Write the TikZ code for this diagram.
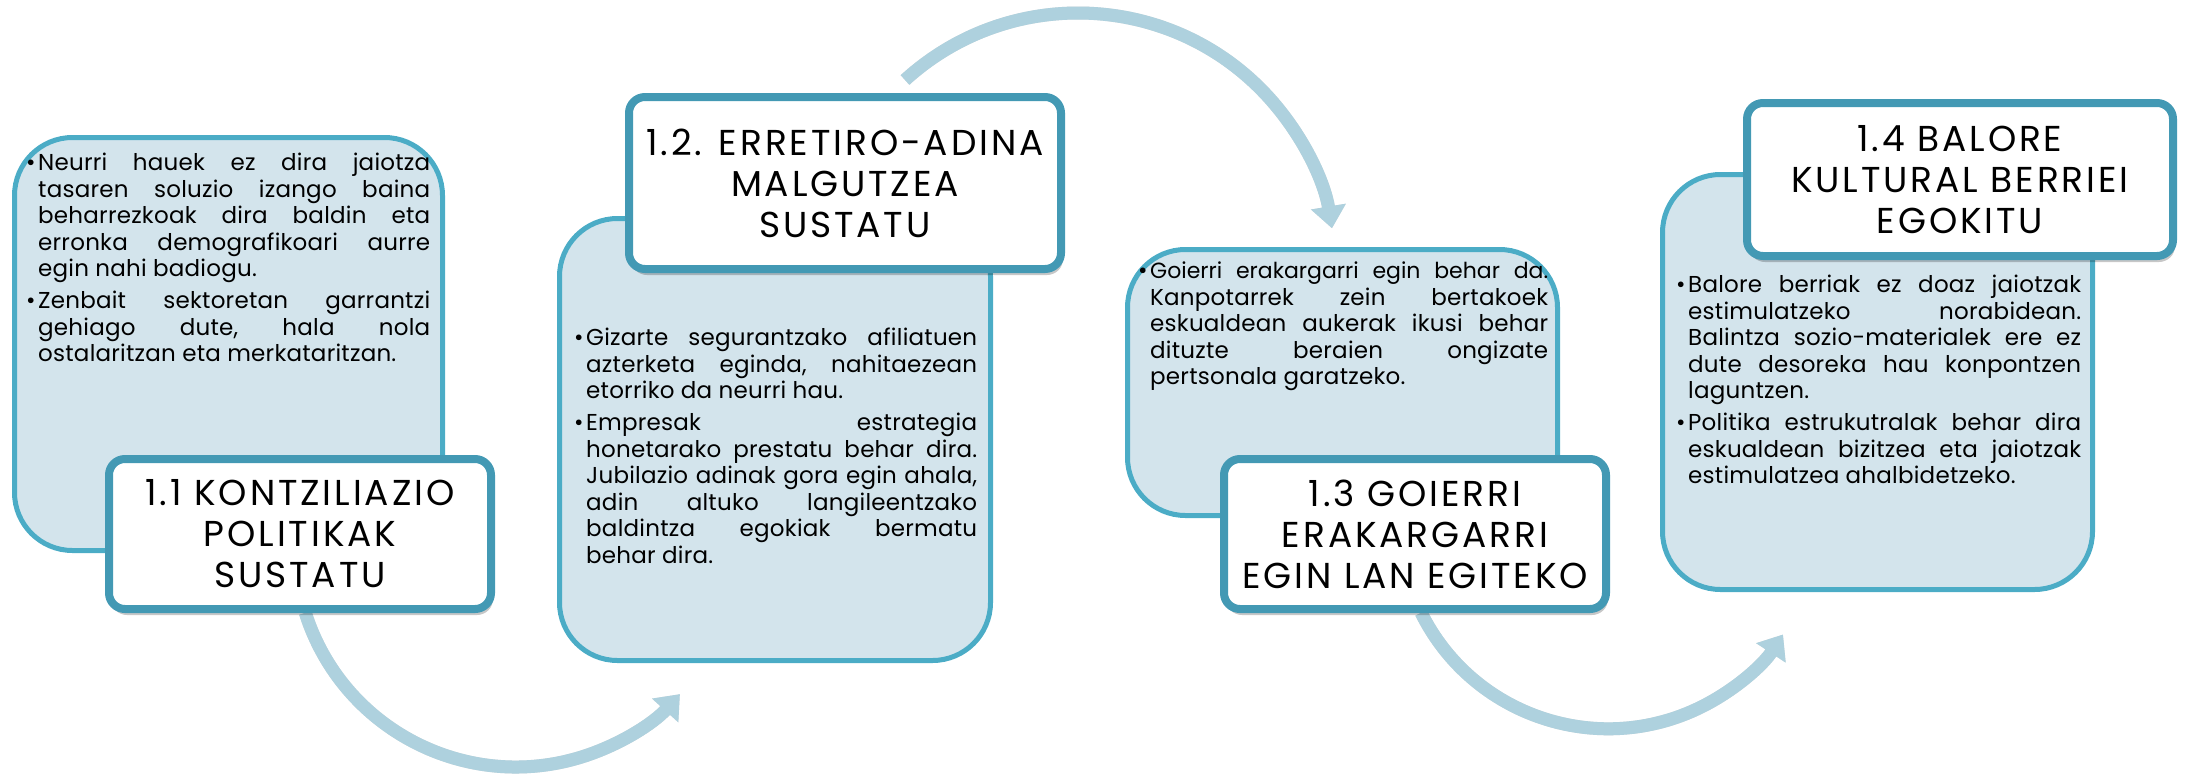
\documentclass[tikz,border=0pt]{standalone}
\usepackage{fontspec}
\setmainfont{Poppins}
\newfontfamily\bodyfam{Poppins}[LetterSpace=1.0]
\newfontfamily\tightfam{Poppins}[LetterSpace=0.0]
\newfontfamily\titlefam{Poppins}[LetterSpace=8.0]
\usetikzlibrary{arrows.meta,shadows}
\definecolor{lightfill}{RGB}{211,228,236}
\definecolor{lightborder}{RGB}{75,172,198}
\definecolor{titleborder}{RGB}{67,153,180}
\definecolor{arrowcol}{RGB}{174,209,222}
\newcommand\bodyfont{\bodyfam\fontsize{23}{26.5}\selectfont\setlength\parskip{5.5pt}\tolerance=10000\hbadness=10000\hyphenpenalty=10000\exhyphenpenalty=10000}
\newcommand\titlefont{\titlefam\fontsize{36}{41}\selectfont}
\newcommand\bitem[1]{\par\hangindent=12pt\hangafter=1\noindent\hbox to 12pt{\strut\textbullet\hfil}#1\par}
\begin{document}
\begin{tikzpicture}[x=1pt,y=1pt,
  lightbox/.style={draw=lightborder, line width=5pt, fill=lightfill, rounded corners=58pt, inner sep=0pt},
  titlebox/.style={draw=titleborder, line width=8pt, fill=white, rounded corners=16pt, inner sep=0pt, align=center, font=\titlefont,
     drop shadow={shadow xshift=2pt, shadow yshift=-6pt, fill=black, opacity=0.22}},
  bodytxt/.style={anchor=north west, inner sep=0pt, align=justify, font=\bodyfont},
  flow/.style={draw=arrowcol, line width=13pt, -{Triangle[length=22pt,width=34pt]}},
  flowshadow/.style={draw=black, opacity=0.12, line width=13pt, -{Triangle[length=22pt,width=34pt]}}]
\useasboundingbox (0,0) rectangle (2185,-774);

% light content boxes
\node[lightbox, minimum width=428pt, minimum height=413pt] (box1) at (228.5,-344) {};
\node[lightbox, minimum width=431pt, minimum height=442pt] (box2) at (775,-439.5) {};
\node[lightbox, minimum width=430pt, minimum height=266pt] (box3) at (1342.5,-382.5) {};
\node[lightbox, minimum width=430pt, minimum height=415pt] (box4) at (1877.5,-382) {};

% texts
\node[bodytxt, text width=404pt] (t1) at (26,-138.5) {%
\bitem{Neurri~hauek~ez~dira~jaiotza\linebreak tasaren~soluzio~izango~baina\linebreak beharrezkoak~dira~baldin~eta\linebreak erronka~demografikoari~aurre\linebreak egin~nahi~badiogu.}%
\bitem{Zenbait~sektoretan~garrantzi\linebreak gehiago~dute,~hala~nola\linebreak ostalaritzan~eta~merkataritzan.}};

\node[bodytxt, text width=403pt] (t2) at (574,-313.5) {%
\bitem{Gizarte~segurantzako~afiliatuen\linebreak azterketa~eginda,~nahitaezean\linebreak etorriko~da~neurri~hau.}%
\bitem{Empresak~estrategia\linebreak honetarako~prestatu~behar~dira.\linebreak Jubilazio~adinak~gora~egin~ahala,\linebreak adin~altuko~langileentzako\linebreak baldintza~egokiak~bermatu\linebreak behar~dira.}};

\node[bodytxt, text width=410pt] (t3) at (1138,-246.5) {%
\bitem{{\tightfam\fontsize{22}{26.5}\selectfont Goierri~erakargarri~egin~behar~da.}\linebreak Kanpotarrek~zein~bertakoek\linebreak eskualdean~aukerak~ikusi~behar\linebreak dituzte~beraien~ongizate\linebreak pertsonala~garatzeko.}};

\node[bodytxt, text width=405pt] (t4) at (1676,-260.5) {%
\bitem{Balore~berriak~ez~doaz~jaiotzak\linebreak estimulatzeko~norabidean.\linebreak Balintza~sozio-materialek~ere~ez\linebreak dute~desoreka~hau~konpontzen\linebreak laguntzen.}%
\bitem{Politika~estrukutralak~behar~dira\linebreak eskualdean~bizitzea~eta~jaiotzak\linebreak estimulatzea~ahalbidetzeko.}};

% curved arrows
\coordinate (a1s) at (305.3,-612.8);
\coordinate (a2s) at (905.0,-80.0);
\coordinate (a3s) at (1421.1,-612.7);
\begin{scope}[shift={(1.5,-3.5)}]
\draw[flowshadow] (a1s) arc[start angle=-162.4, end angle=-42.1, radius=221pt];
\draw[flowshadow] (a2s) arc[start angle=132.3, end angle=9.4, radius=257.3pt];
\draw[flowshadow] (a3s) arc[start angle=-153.6, end angle=-33.3, radius=209pt];
\end{scope}
\draw[flow] (a1s) arc[start angle=-162.4, end angle=-42.1, radius=221pt];
\draw[flow] (a2s) arc[start angle=132.3, end angle=9.4, radius=257.3pt];
\draw[flow] (a3s) arc[start angle=-153.6, end angle=-33.3, radius=209pt];

% title boxes
\node[titlebox, minimum width=382pt, minimum height=150pt] (ti1) at (300,-534) {1.1 KONTZILIAZIO\\POLITIKAK\\SUSTATU};
\node[titlebox, minimum width=432pt, minimum height=172pt] (ti2) at (845,-183) {1.2. ERRETIRO-ADINA\\MALGUTZEA\\SUSTATU};
\node[titlebox, minimum width=382pt, minimum height=150pt] (ti3) at (1415,-534) {1.3 GOIERRI\\ERAKARGARRI\\EGIN LAN EGITEKO};
\node[titlebox, minimum width=426pt, minimum height=153pt] (ti4) at (1960,-179.5) {1.4 BALORE\\KULTURAL BERRIEI\\EGOKITU};
\end{tikzpicture}
\end{document}
